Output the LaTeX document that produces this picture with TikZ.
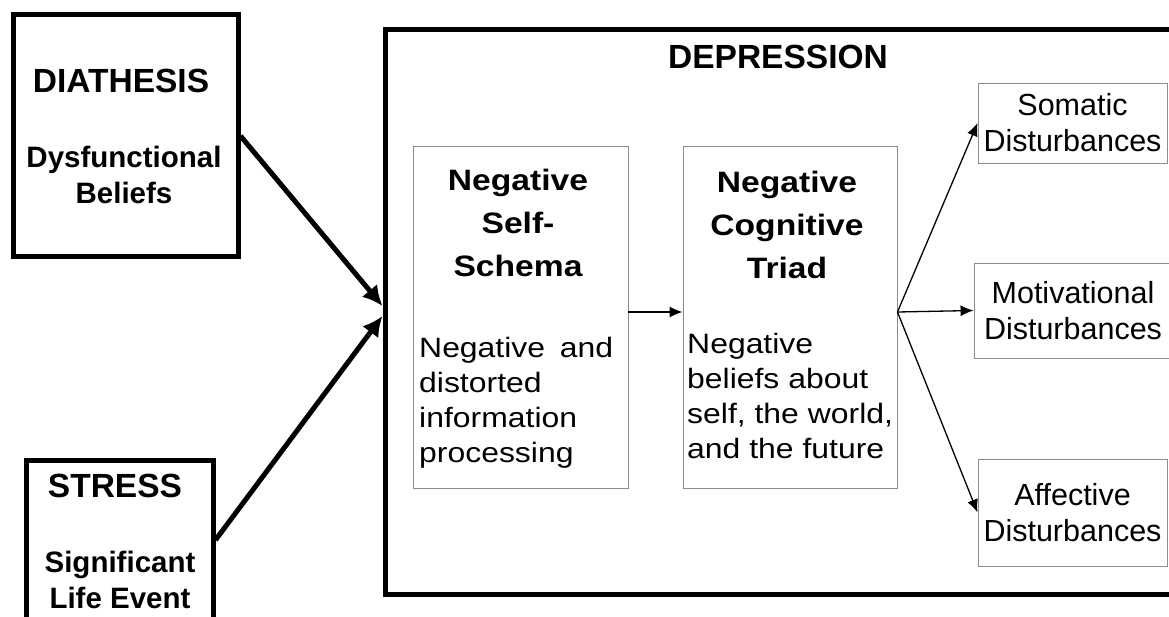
\documentclass[tikz,border=0pt]{standalone}
\usepackage{fontspec}
\setmainfont{Liberation Sans}
\newfontfamily\widefont[FakeStretch=1.14]{Liberation Sans}
\usetikzlibrary{arrows.meta, positioning}

\begin{document}
\begin{tikzpicture}[x=1pt, y=-1pt,
  thickbox/.style={draw, line width=5pt, inner sep=0pt},
  thinbox/.style={draw=black!45, line width=0.9pt, inner sep=0pt},
  heading/.style={font=\fontsize{33.5}{38}\selectfont\bfseries, anchor=base, inner sep=0pt},
  subhead/.style={font=\fontsize{29.5}{36}\selectfont\bfseries, align=center, anchor=north, inner sep=0pt},
  title/.style={font=\widefont\fontsize{29.5}{43}\selectfont\bfseries, align=center, anchor=north, inner sep=0pt},
  body/.style={font=\widefont\fontsize{28}{35}\selectfont, align=left, anchor=north west, inner sep=0pt},
  outcome/.style={thinbox, font=\fontsize{30.5}{36}\selectfont, align=center},
  bigarrow/.style={line width=5pt, -{Latex[length=20pt,width=20pt]}},
  smallarrow/.style={line width=1.3pt, -{Latex[length=13pt,width=11pt]}}]
\useasboundingbox (0,0) rectangle (1169,617);

% frames
\node[thickbox, minimum width=225pt, minimum height=242pt] (diathesis) at (125.5,136) {};
\node[thickbox, minimum width=187pt, minimum height=160pt] (stress) at (119.5,540) {};
\node[thickbox, minimum width=795pt, minimum height=564pt] (depression) at (782.5,312) {};
\node[thinbox, minimum width=215pt, minimum height=342pt] (schema) at (520.5,317) {};
\node[thinbox, minimum width=214pt, minimum height=342pt] (triad) at (790,317) {};

% texts
\node[heading] (diathesis-title) at (121,93) {DIATHESIS};
\node[subhead] (diathesis-text) at (124,146) {Dysfunctional\\Beliefs};
\node[heading] (stress-title) at (115,497) {STRESS};
\node[subhead] (stress-text) at (120,551) {Significant\\Life Event};
\node[heading] (depression-title) at (778,69) {DEPRESSION};
\node[title] (schema-title) at (518,169) {Negative\\Self-\\Schema};
\node[title] (triad-title) at (787,171) {Negative\\Cognitive\\Triad};
\node[body] (schema-text) at (419,337) {\makebox[194pt][s]{Negative and}\\distorted\\information\\processing};
\node[body] (triad-text) at (687,333) {Negative\\beliefs about\\self, the world,\\and the future};

% outcomes
\node[outcome, minimum width=189pt, minimum height=80pt] (somatic) at (1072.5,123) {Somatic\\Disturbances};
\node[outcome, minimum width=198pt, minimum height=95pt] (motivational) at (1073,310.5) {Motivational\\Disturbances};
\node[outcome, minimum width=189pt, minimum height=107pt] (affective) at (1072.5,512.5) {Affective\\Disturbances};

% arrows
\draw[bigarrow] (diathesis.east) -- ([yshift=6pt]depression.west);
\draw[bigarrow] (stress.east) -- ([yshift=-4pt]depression.west);
\draw[smallarrow] ([yshift=5pt]schema.east) -- ([yshift=5pt]triad.west);
\coordinate (fan) at ([yshift=5pt]triad.east);
\foreach \target in {somatic, motivational, affective}
  \draw[smallarrow] (fan) -- (\target.west);
\end{tikzpicture}
\end{document}
